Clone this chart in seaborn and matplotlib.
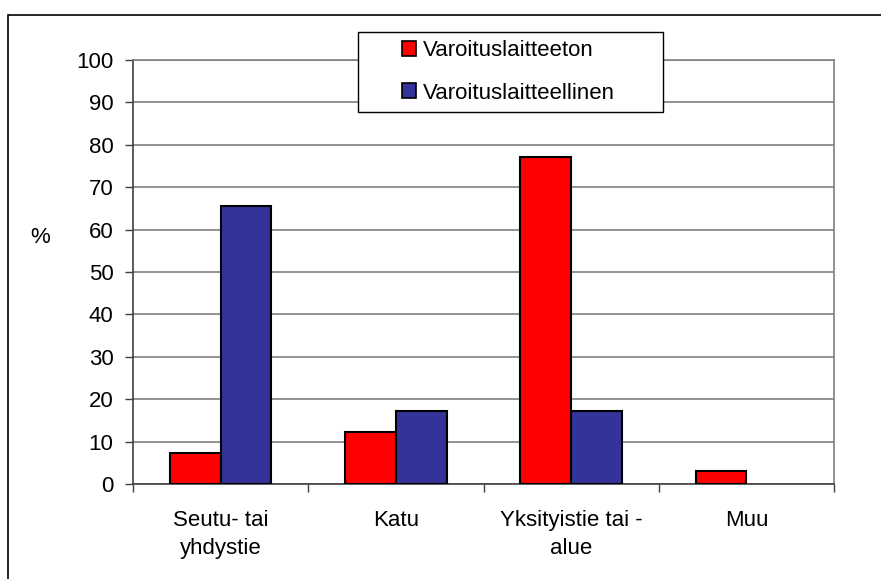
import pandas as pd
import matplotlib.pyplot as plt
import seaborn as sns
from matplotlib.patches import Rectangle, Patch

# Data
categories = ["Seutu- tai\nyhdystie", "Katu", "Yksityistie tai -\nalue", "Muu"]
series = ["Varoituslaitteeton", "Varoituslaitteellinen"]
without_device = [7.4, 12.2, 77.2, 3.0]
with_device = [65.6, 17.1, 17.2, 0.0]
colors = ["#FF0000", "#333399"]

df = pd.DataFrame({
    "category": categories * 2,
    "series": [series[0]] * 4 + [series[1]] * 4,
    "value": without_device + with_device,
})

sns.set_style("white", {"text.color": "black", "xtick.color": "black",
                        "ytick.color": "black", "axes.labelcolor": "black"})
plt.rcParams["font.family"] = ["Liberation Sans", "DejaVu Sans"]

W, H = 881, 579
fig = plt.figure(figsize=(W / 100, H / 100), dpi=100)
ax = fig.add_axes([133 / W, 1 - 484 / H, (834 - 133) / W, (484 - 60) / H])

sns.barplot(data=df, x="category", y="value", hue="series",
            palette=colors, saturation=1,
            edgecolor="black", linewidth=1.5,
            width=0.58, gap=0, ax=ax, zorder=3, legend=False)

# hide zero-height bar
for p in ax.patches:
    if p.get_height() == 0:
        p.set_visible(False)

ax.set_ylim(0, 100)
ax.set_xlim(-0.5, 3.5)
ax.set_yticks(range(0, 101, 10))
ax.yaxis.grid(True, color="#808080", linewidth=1.2, zorder=0)
ax.set_axisbelow(True)
ax.set_xlabel("")
ax.set_ylabel("%", rotation=0, fontsize=16, va="center", ha="center")
ax.yaxis.set_label_coords((40 - 133) / (834 - 133), (484 - 237) / (484 - 60))

ax.tick_params(axis="x", which="major", length=0, labelsize=16, pad=19)
for lbl in ax.get_xticklabels():
    lbl.set_linespacing(1.4)
ax.set_xticks([-0.5, 0.5, 1.5, 2.5, 3.5], minor=True)
ax.tick_params(axis="x", which="minor", length=6, width=1, color="#404040", bottom=True)
ax.tick_params(axis="y", length=6, width=1, color="#404040", labelcolor="black",
               labelsize=16, left=True, pad=8)

for side in ["left", "bottom"]:
    ax.spines[side].set_color("#404040")
    ax.spines[side].set_linewidth(1.2)
for side in ["top", "right"]:
    ax.spines[side].set_color("#808080")
    ax.spines[side].set_linewidth(1.2)

# legend: white box with black frame, entries on top
fig.patches.append(Rectangle((358 / W, 1 - 112 / H), (663 - 358) / W, (112 - 32) / H,
                             transform=fig.transFigure, facecolor="white",
                             edgecolor="black", linewidth=1.0, zorder=2))
handles = [Patch(facecolor=c, edgecolor="black", linewidth=1.2) for c in colors]
leg = fig.legend(handles, series, loc="center left",
                 bbox_to_anchor=(402 / W, 1 - 72 / H), fontsize=16,
                 frameon=False, handlelength=0.65, handleheight=0.65,
                 handletextpad=0.3, borderpad=0, labelspacing=0.95,
                 borderaxespad=0, labelcolor="black")
leg.set_zorder(5)

# outer chart border (only left and top edges are inside the image)
fig.patches.append(Rectangle((8 / W, -0.05), 1.1, 1 - 15 / H + 0.05,
                             transform=fig.transFigure, fill=False,
                             edgecolor="black", linewidth=1.2, zorder=1))

fig.savefig("out.png", dpi=100)
